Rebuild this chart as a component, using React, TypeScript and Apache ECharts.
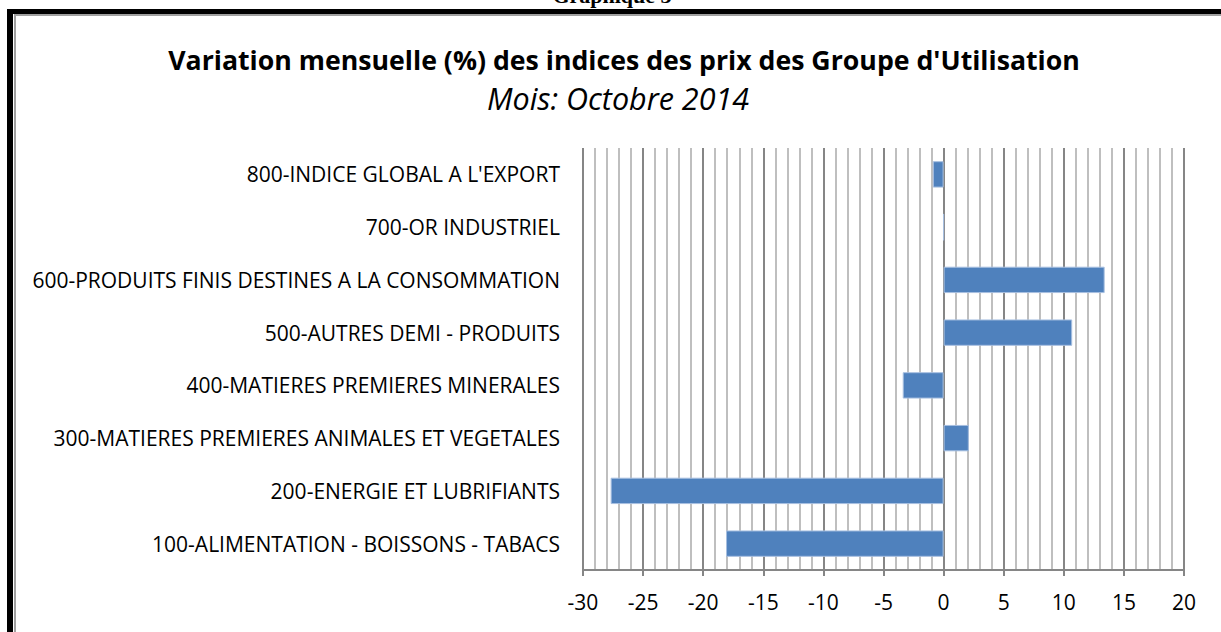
import React, { useEffect, useRef } from "react";
import * as echarts from "echarts";

const categories = [
  "100-ALIMENTATION - BOISSONS - TABACS",
  "200-ENERGIE ET LUBRIFIANTS",
  "300-MATIERES PREMIERES ANIMALES ET VEGETALES",
  "400-MATIERES PREMIERES MINERALES",
  "500-AUTRES DEMI - PRODUITS",
  "600-PRODUITS FINIS DESTINES A LA CONSOMMATION",
  "700-OR INDUSTRIEL",
  "800-INDICE GLOBAL A L'EXPORT",
];
const values = [-18.1, -27.7, 2.1, -3.4, 10.7, 13.4, 0, -0.9];

const titleText = "Variation mensuelle (%) des indices des prix des Groupe d'Utilisation";
const subtitleText = "Mois: Octobre 2014";
const headingText = "Graphique 3";

export default function App() {
  const ref = useRef<HTMLDivElement>(null);
  useEffect(() => {
    if (!ref.current) return;
    const chart = echarts.init(ref.current, null, { renderer: "svg" });
    const font = "'Open Sans', sans-serif";
    chart.setOption({
      animation: false,
      backgroundColor: "#ffffff",
      title: [
        {
          text: titleText,
          left: 619,
          top: 41,
          textAlign: "center",
          textStyle: { fontFamily: font, fontSize: 26.7, fontWeight: "bold", color: "#000" },
        },
        {
          text: subtitleText,
          left: 613,
          top: 78,
          textAlign: "center",
          textStyle: { fontFamily: font, fontSize: 30.5, fontStyle: "italic", fontWeight: "normal", color: "#000" },
        },
      ],
      graphic: [
        { type: "rect", shape: { x: 7, y: 9, width: 1214, height: 5 }, style: { fill: "#000" } },
        { type: "rect", shape: { x: 7, y: 9, width: 6, height: 623 }, style: { fill: "#000" } },
        { type: "rect", shape: { x: 14, y: 14, width: 1207, height: 2 }, style: { fill: "#a0a0a0" } },
        { type: "rect", shape: { x: 14, y: 14, width: 2, height: 618 }, style: { fill: "#a0a0a0" } },
        {
          type: "text",
          x: 612,
          y: 6,
          style: {
            text: headingText,
            fontFamily: "'Liberation Serif', 'DejaVu Serif', serif",
            fontSize: 22,
            fontWeight: "bold",
            fill: "#000",
            align: "center",
            verticalAlign: "bottom",
          },
        },
      ],
      grid: { left: 583, right: 37, top: 148, bottom: 62, containLabel: false },
      xAxis: {
        type: "value",
        min: -30,
        max: 20,
        interval: 5,
        axisLine: { show: true, lineStyle: { color: "#868686", width: 2 } },
        axisTick: { show: true, length: 6, lineStyle: { color: "#868686", width: 2 } },
        axisLabel: { fontFamily: font, fontSize: 21, color: "#000", margin: 21 },
        splitLine: { show: true, lineStyle: { color: "#868686", width: 2 } },
        minorTick: { show: false, splitNumber: 5 },
        minorSplitLine: { show: true, lineStyle: { color: "#bfbfbf", width: 2 } },
      },
      yAxis: {
        type: "category",
        data: categories,
        axisLine: { show: false },
        axisTick: { show: false },
        axisLabel: { fontFamily: font, fontSize: 21, color: "#000", margin: 23 },
        splitLine: { show: false },
      },
      series: [
        {
          type: "bar",
          data: values,
          barWidth: "50%",
          itemStyle: { color: "#4F81BD", borderColor: "#a7bfe0", borderWidth: 1 },
        },
      ],
    });
    return () => chart.dispose();
  }, []);
  return (
    <div
      ref={ref}
      style={{ position: "fixed", left: 0, top: 0, width: 1221, height: 632 }}
    />
  );
}
